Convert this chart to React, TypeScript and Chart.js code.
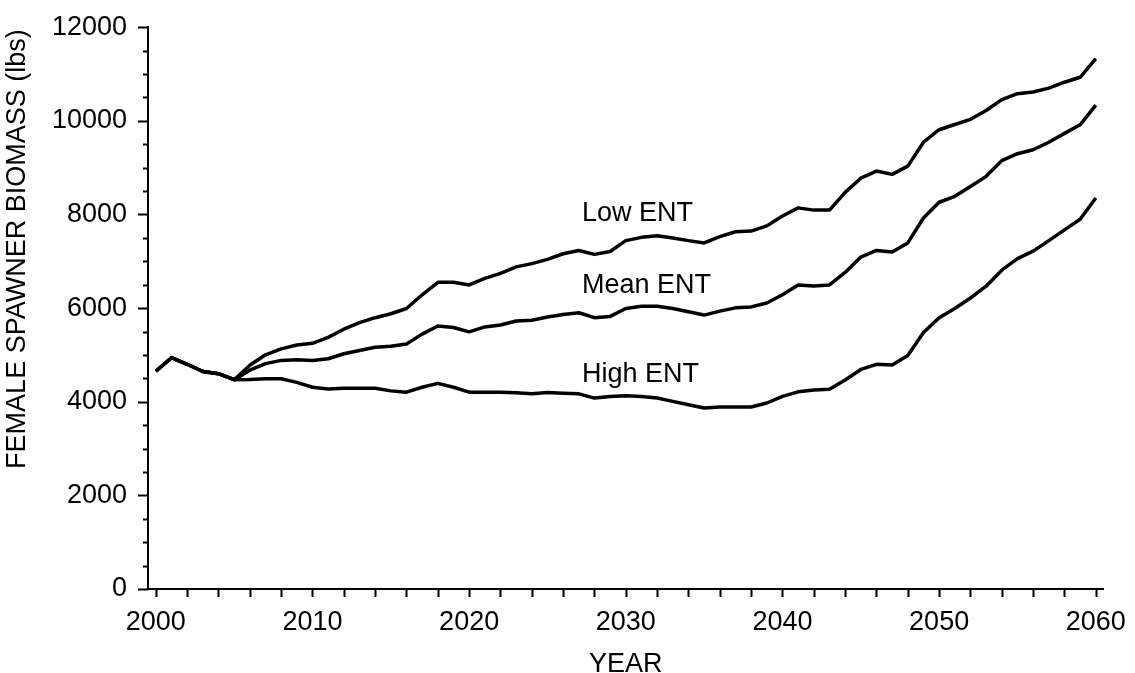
import React, { useEffect, useRef } from "react";
import { Chart, registerables } from "chart.js";

Chart.register(...registerables);

const YEARS = [
  2000, 2001, 2002, 2003, 2004, 2005, 2006, 2007, 2008, 2009,
  2010, 2011, 2012, 2013, 2014, 2015, 2016, 2017, 2018, 2019,
  2020, 2021, 2022, 2023, 2024, 2025, 2026, 2027, 2028, 2029,
  2030, 2031, 2032, 2033, 2034, 2035, 2036, 2037, 2038, 2039,
  2040, 2041, 2042, 2043, 2044, 2045, 2046, 2047, 2048, 2049,
  2050, 2051, 2052, 2053, 2054, 2055, 2056, 2057, 2058, 2059,
  2060,
];

const LOW_ENT = [
  4650, 4940, 4800, 4645, 4600, 4470, 4778, 5003, 5129, 5213,
  5248, 5374, 5549, 5690, 5795, 5879, 5991, 6285, 6552, 6552,
  6495, 6636, 6741, 6880, 6950, 7042, 7161, 7231, 7147, 7210,
  7441, 7511, 7546, 7498, 7441, 7392, 7525, 7630, 7645, 7756,
  7967, 8141, 8093, 8093, 8471, 8775, 8927, 8857, 9032, 9543,
  9810, 9921, 10033, 10222, 10454, 10580, 10615, 10699, 10825, 10930,
  11330,
];

const MEAN_ENT = [
  4650, 4940, 4800, 4645, 4600, 4470, 4673, 4814, 4883, 4898,
  4883, 4919, 5024, 5093, 5165, 5185, 5234, 5444, 5619, 5585,
  5493, 5598, 5640, 5724, 5739, 5809, 5865, 5900, 5795, 5823,
  5991, 6040, 6040, 5991, 5921, 5851, 5935, 6005, 6026, 6110,
  6285, 6495, 6474, 6495, 6762, 7090, 7231, 7196, 7392, 7925,
  8261, 8387, 8597, 8814, 9150, 9298, 9382, 9543, 9732, 9915,
  10335,
];

const HIGH_ENT = [
  4650, 4940, 4800, 4645, 4600, 4470, 4477, 4492, 4492, 4414,
  4309, 4274, 4288, 4288, 4288, 4232, 4204, 4309, 4393, 4309,
  4204, 4204, 4204, 4190, 4170, 4197, 4183, 4169, 4078, 4113,
  4127, 4113, 4078, 4008, 3937, 3868, 3889, 3889, 3889, 3973,
  4113, 4211, 4253, 4267, 4463, 4690, 4799, 4786, 4988, 5480,
  5795, 5991, 6216, 6468, 6810, 7056, 7217, 7441, 7672, 7897,
  8351,
];

const X_LABEL_YEARS = [2000, 2010, 2020, 2030, 2040, 2050, 2060];
const X_MINOR_TICKS = [
  2000, 2002, 2004, 2006, 2008, 2010, 2012, 2014, 2016, 2018,
  2020, 2022, 2024, 2026, 2028, 2030, 2032, 2034, 2036, 2038,
  2040, 2042, 2044, 2046, 2048, 2050, 2052, 2054, 2056, 2058,
  2060,
];
const Y_LABEL_VALUES = [0, 2000, 4000, 6000, 8000, 10000, 12000];
const Y_MINOR_TICKS = [
  0, 500, 1000, 1500, 2000, 2500, 3000, 3500, 4000, 4500, 5000, 5500,
  6000, 6500, 7000, 7500, 8000, 8500, 9000, 9500, 10000, 10500, 11000,
  11500, 12000,
];

const SERIES_NAMES = ["Low ENT", "Mean ENT", "High ENT"];
const LABEL_YEARS = [2027.2, 2027.2, 2027.2];
const LABEL_VALUES = [7862, 6321, 4429];

const X_TITLE = "YEAR";
const Y_TITLE = "FEMALE SPAWNER BIOMASS (lbs)";

const FONT = '"Liberation Sans", Arial, Helvetica, sans-serif';

const axisPlugin = {
  id: "customAxisMarks",
  afterDraw(chart: any) {
    const { ctx, scales, chartArea } = chart;
    const x = scales.x;
    const y = scales.y;
    ctx.save();
    ctx.strokeStyle = "#000";
    ctx.lineWidth = 2;
    ctx.beginPath();
    for (const v of Y_MINOR_TICKS) {
      const py = Math.round(y.getPixelForValue(v)) + 0.5;
      const len = Y_LABEL_VALUES.includes(v) ? 10 : 5;
      ctx.moveTo(x.left - len, py);
      ctx.lineTo(x.left, py);
    }
    for (const yr of X_MINOR_TICKS) {
      const px = Math.round(x.getPixelForValue(yr)) + 0.5;
      ctx.moveTo(px, y.bottom);
      ctx.lineTo(px, y.bottom + 8);
    }
    ctx.stroke();

    ctx.fillStyle = "#000";
    ctx.font = `27px ${FONT}`;
    ctx.textAlign = "left";
    ctx.textBaseline = "alphabetic";
    SERIES_NAMES.forEach((name, i) => {
      ctx.fillText(
        name,
        x.getPixelForValue(LABEL_YEARS[i]),
        y.getPixelForValue(LABEL_VALUES[i])
      );
    });

    // Y axis title (rotated), placed a bit above the plot's vertical centre
    const cy = (chartArea.top + chartArea.bottom) / 2 - 59;
    ctx.translate(y.left + 18, cy);
    ctx.rotate(-Math.PI / 2);
    ctx.textAlign = "center";
    ctx.textBaseline = "middle";
    ctx.font = `27px ${FONT}`;
    ctx.fillText(Y_TITLE, 0, 0);
    ctx.restore();
  },
};

export default function App() {
  const canvasRef = useRef<HTMLCanvasElement | null>(null);

  useEffect(() => {
    if (!canvasRef.current) return;
    const lineStyle = {
      borderColor: "#000",
      borderWidth: 3.5,
      pointRadius: 0,
      tension: 0,
      fill: false,
      borderJoinStyle: "round" as const,
    };
    const chart = new Chart(canvasRef.current, {
      type: "line",
      data: {
        datasets: [
          { label: SERIES_NAMES[0], data: YEARS.map((yr, i) => ({ x: yr, y: LOW_ENT[i] })), ...lineStyle },
          { label: SERIES_NAMES[1], data: YEARS.map((yr, i) => ({ x: yr, y: MEAN_ENT[i] })), ...lineStyle },
          { label: SERIES_NAMES[2], data: YEARS.map((yr, i) => ({ x: yr, y: HIGH_ENT[i] })), ...lineStyle },
        ],
      },
      options: {
        animation: false,
        responsive: true,
        maintainAspectRatio: false,
        layout: { padding: { left: 0, top: 18, right: 21, bottom: 0 } },
        plugins: {
          legend: { display: false },
          tooltip: { enabled: false },
        },
        scales: {
          x: {
            type: "linear",
            min: 1999.5,
            max: 2060.5,
            afterBuildTicks: (scale: any) => {
              scale.ticks = X_LABEL_YEARS.map((v) => ({ value: v }));
            },
            afterFit: (scale: any) => {
              scale.height = 84;
            },
            grid: {
              display: true,
              drawOnChartArea: false,
              drawTicks: true,
              tickLength: 8,
              tickColor: "rgba(0,0,0,0)",
            },
            border: { display: true, color: "#000", width: 2 },
            ticks: {
              color: "#000",
              font: { family: FONT, size: 27 },
              padding: 9,
              maxRotation: 0,
              autoSkip: false,
              callback: (v: any) => String(v),
            },
            title: {
              display: true,
              text: X_TITLE,
              color: "#000",
              font: { family: FONT, size: 27 },
              padding: { top: 0, bottom: -8 },
            },
          },
          y: {
            type: "linear",
            min: 0,
            max: 12000,
            afterBuildTicks: (scale: any) => {
              scale.ticks = Y_LABEL_VALUES.map((v) => ({ value: v }));
            },
            afterFit: (scale: any) => {
              scale.width = 148;
            },
            grid: {
              display: true,
              drawOnChartArea: false,
              drawTicks: true,
              tickLength: 10,
              tickColor: "rgba(0,0,0,0)",
            },
            border: { display: true, color: "#000", width: 2 },
            ticks: {
              color: "#000",
              font: { family: FONT, size: 27 },
              padding: 11,
              autoSkip: false,
              callback: (v: any) => String(v),
            },
            title: { display: false },
          },
        },
      },
      plugins: [axisPlugin],
    });
    return () => chart.destroy();
  }, []);

  return (
    <div
      style={{
        position: "fixed",
        left: 0,
        top: 0,
        width: 1135,
        height: 673,
        background: "#fff",
      }}
    >
      <canvas ref={canvasRef} />
    </div>
  );
}
